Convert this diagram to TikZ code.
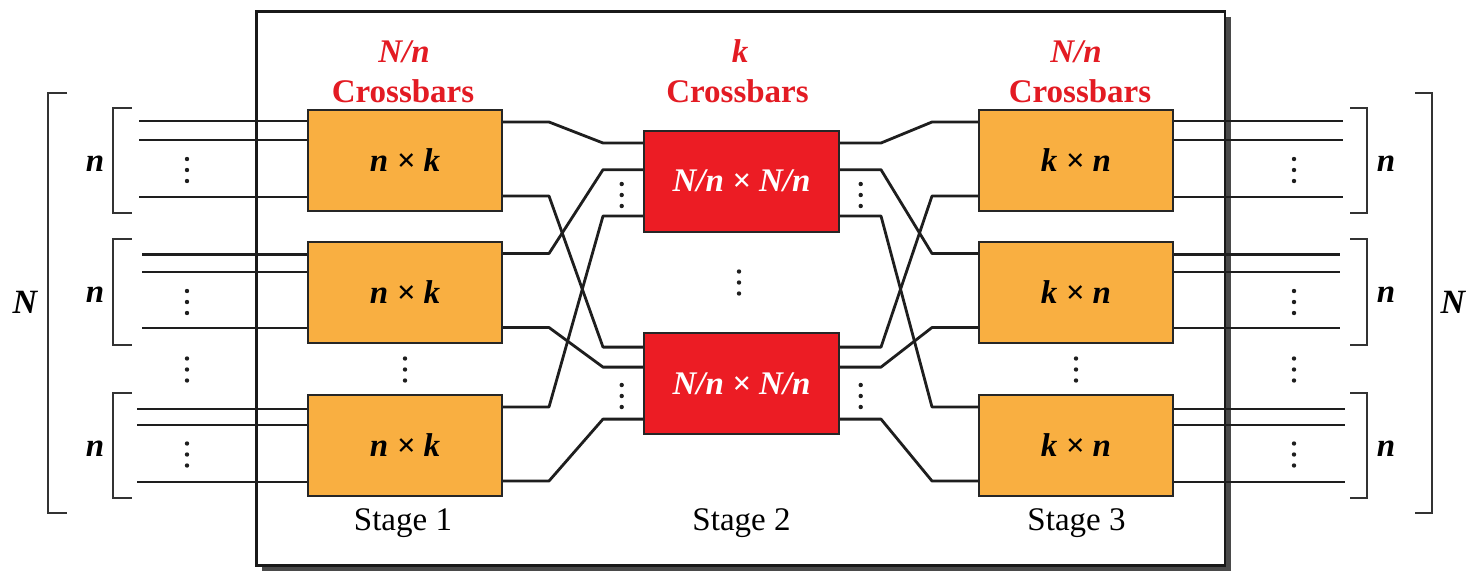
\documentclass[tikz,border=0pt]{standalone}
\usepackage{fontspec}
\setmainfont{Liberation Serif}
\usetikzlibrary{calc}
\definecolor{boxorange}{HTML}{F9AF41}
\definecolor{boxred}{HTML}{EC1C24}
\definecolor{labred}{HTML}{E31B23}
\definecolor{wirec}{HTML}{1E1E1E}
\definecolor{shadowc}{HTML}{4A4A4A}
\newcommand\vdotsat[2]{\foreach \dy in {-11,0,11}{\fill[wirec] ({#1},{#2+\dy}) circle[radius=1.1pt];}}
\begin{document}
\begin{tikzpicture}[x=0.5pt,y=-0.5pt,
  lab/.style={font=\fontsize{16.5}{18}\selectfont, inner sep=0pt, anchor=base},
  obox/.style={draw=black!85,line width=1pt,fill=boxorange,minimum width=97pt,minimum height=50.5pt,inner sep=0pt,font=\fontsize{16.5}{18}\selectfont\bfseries\itshape},
  rbox/.style={obox,fill=boxred,text=white,minimum width=97.5pt},
  wire/.style={draw=wirec,line width=1.4pt,line join=round},
  brk/.style={draw=black!80,line width=1pt},
  redlab/.style={lab,text=labred,font=\fontsize{16.5}{18}\selectfont\bfseries},
  itlab/.style={lab,font=\fontsize{16.5}{18}\selectfont\bfseries\itshape}
]
\useasboundingbox (0,0) rectangle (1471,573);
% frame with shadow
\fill[shadowc] (262,17) rectangle (1231,571);
\draw[black!90,fill=white,line width=1.2pt] (256.5,11.5) rectangle (1225,565.5);

% stage boxes
\node[obox] (a1) at (405,160.5) {n × k};
\node[obox] (a2) at (405,292) {n × k};
\node[obox] (a3) at (405,445.5) {n × k};
\node[obox] (c1) at (1076,160.5) {k × n};
\node[obox] (c2) at (1076,292) {k × n};
\node[obox] (c3) at (1076,445.5) {k × n};
\node[rbox] (r1) at (741.5,181.2) {N/n × N/n};
\node[rbox] (r2) at (741.5,383.3) {N/n × N/n};

% ports stage 1 / stage 3
\foreach \i in {1,2,3}{
  \coordinate (a\i-o1) at ($(a\i.north east)+(0,13)$);
  \coordinate (a\i-o2) at ($(a\i.north east)+(0,87)$);
  \coordinate (c\i-i1) at ($(c\i.north west)+(0,13)$);
  \coordinate (c\i-i2) at ($(c\i.north west)+(0,87)$);
}
% ports stage 2
\coordinate (r1-i1) at ($(r1.north west)+(0,13.3)$);
\coordinate (r1-i2) at ($(r1.north west)+(0,40)$);
\coordinate (r1-i3) at ($(r1.north west)+(0,86.3)$);
\coordinate (r2-i1) at ($(r2.north west)+(0,15.3)$);
\coordinate (r2-i2) at ($(r2.north west)+(0,35.3)$);
\coordinate (r2-i3) at ($(r2.north west)+(0,87.3)$);
\coordinate (r1-o1) at ($(r1.north east)+(0,13.3)$);
\coordinate (r1-o2) at ($(r1.north east)+(0,40)$);
\coordinate (r1-o3) at ($(r1.north east)+(0,86.3)$);
\coordinate (r2-o1) at ($(r2.north east)+(0,15.3)$);
\coordinate (r2-o2) at ($(r2.north east)+(0,35.3)$);
\coordinate (r2-o3) at ($(r2.north east)+(0,87.3)$);

% stage 1 -> stage 2
\foreach \s/\t in {a1-o1/r1-i1, a1-o2/r2-i1, a2-o1/r1-i2, a2-o2/r2-i2, a3-o1/r1-i3, a3-o2/r2-i3}{
  \draw[wire] (\s) -- ++(46,0) -- ($(\t)+(-40,0)$) -- (\t);
}
% stage 2 -> stage 3
\foreach \s/\t in {r1-o1/c1-i1, r1-o2/c2-i1, r1-o3/c3-i1, r2-o1/c1-i2, r2-o2/c2-i2, r2-o3/c3-i2}{
  \draw[wire] (\s) -- ++(41,0) -- ($(\t)+(-46,0)$) -- (\t);
}

% input lines
\foreach \o in {12,31,88}{
  \draw[wire] ($(a1.north west)+(0,\o)$) -- ++(-168,0);
  \draw[wire] ($(c1.north east)+(0,\o)$) -- ++(169,0);
}
\foreach \o in {14,31.5,87.5}{
  \draw[wire] ($(a2.north west)+(0,\o)$) -- ++(-165,0);
  \draw[wire] ($(c2.north east)+(0,\o)$) -- ++(166,0);
}
\foreach \o in {15,31,88}{
  \draw[wire] ($(a3.north west)+(0,\o)$) -- ++(-170,0);
  \draw[wire] ($(c3.north east)+(0,\o)$) -- ++(171,0);
}

% dots
\vdotsat{187}{170}\vdotsat{187}{302}\vdotsat{187}{369.5}\vdotsat{187}{454.5}
\vdotsat{1294}{170}\vdotsat{1294}{302}\vdotsat{1294}{369.5}\vdotsat{1294}{454.5}
\vdotsat{405}{369.5}\vdotsat{1076}{369.5}
\vdotsat{621.7}{195}\vdotsat{621.7}{396}
\vdotsat{860.7}{195}\vdotsat{860.7}{396}
\vdotsat{739}{282.5}

% brackets
\foreach \ya/\yb in {108/213, 239/345, 393/498}{
  \draw[brk] (131.5,\ya) -- (113,\ya) -- (113,\yb) -- (131.5,\yb);
  \draw[brk] (1350,\ya) -- (1367,\ya) -- (1367,\yb) -- (1350,\yb);
}
\draw[brk] (67,93) -- (48,93) -- (48,513) -- (67,513);
\draw[brk] (1415,93) -- (1432,93) -- (1432,513) -- (1415,513);

% bracket labels
\node[itlab] (nl1) at (95,171.5) {n};
\node[itlab] (nl2) at (95,302.5) {n};
\node[itlab] (nl3) at (95,456.5) {n};
\node[itlab] (nr1) at (1386,171.5) {n};
\node[itlab] (nr2) at (1386,302.5) {n};
\node[itlab] (nr3) at (1386,456.5) {n};
\node[itlab,font=\fontsize{17}{18}\selectfont\bfseries\itshape] (NL) at (25,313) {N};
\node[itlab,font=\fontsize{17}{18}\selectfont\bfseries\itshape] (NR) at (1453,313) {N};

% top labels
\node[redlab,font=\fontsize{16.5}{18}\selectfont\bfseries\itshape] (t1a) at (404,62) {N/n};
\node[redlab] (t1b) at (403,102) {Crossbars};
\node[redlab,font=\fontsize{16.5}{18}\selectfont\bfseries\itshape] (t2a) at (740,62.5) {k};
\node[redlab] (t2b) at (737.5,102.3) {Crossbars};
\node[redlab,font=\fontsize{16.5}{18}\selectfont\bfseries\itshape] (t3a) at (1076,62) {N/n};
\node[redlab] (t3b) at (1080,102) {Crossbars};

% stage labels
\node[lab] (s1) at (403,530) {Stage 1};
\node[lab] (s2) at (741.5,530) {Stage 2};
\node[lab] (s3) at (1076.5,530) {Stage 3};
\end{tikzpicture}
\end{document}
